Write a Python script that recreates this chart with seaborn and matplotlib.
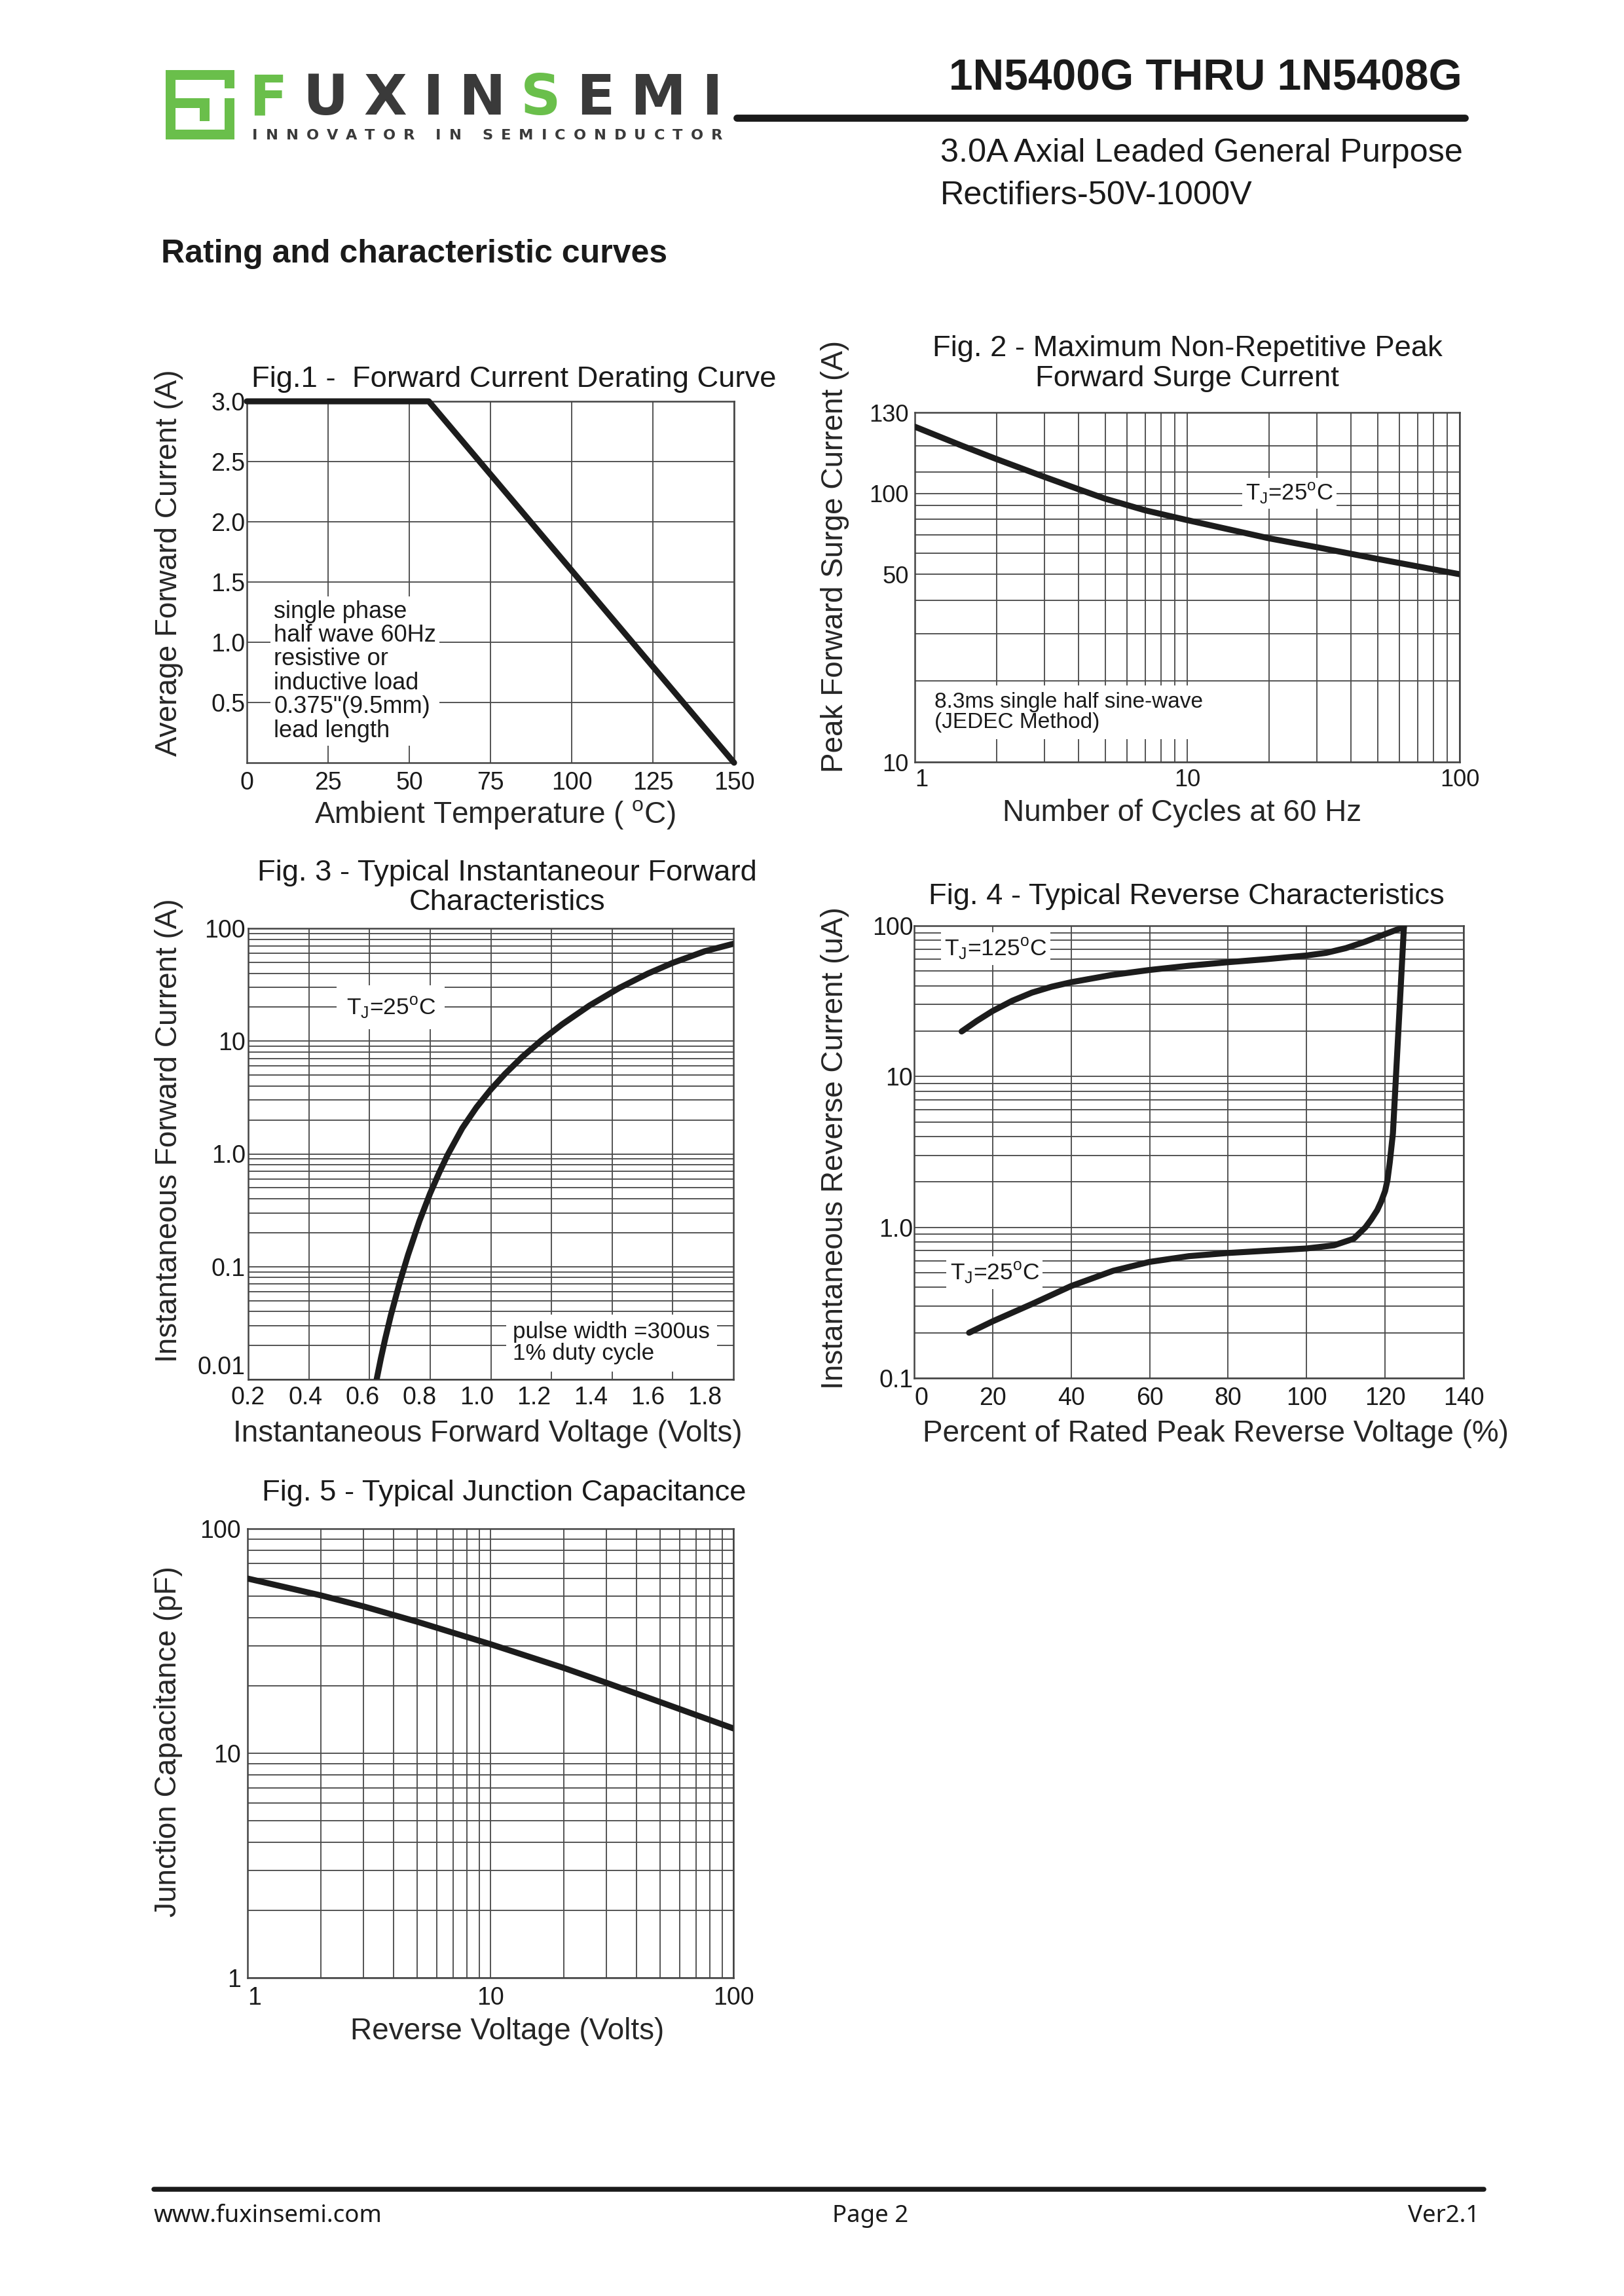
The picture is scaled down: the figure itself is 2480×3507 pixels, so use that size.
import numpy as np
import pandas as pd
import matplotlib
matplotlib.use("Agg")
import matplotlib.pyplot as plt
import seaborn as sns
from matplotlib.patches import Rectangle
from matplotlib.lines import Line2D
from matplotlib.ticker import FixedLocator, NullFormatter, LogLocator

# ---------------- data ----------------
fig1_temp = [0, 56, 150]
fig1_current = [3.0, 3.0, 0.0]
fig1_xticks = [0, 25, 50, 75, 100, 125, 150]
fig1_yticks = [0.5, 1.0, 1.5, 2.0, 2.5, 3.0]
fig1_yticklabels = ["0.5", "1.0", "1.5", "2.0", "2.5", "3.0"]

fig2_cycles = [1, 1.5, 2, 3, 4, 5, 7, 10, 20, 30, 50, 100]
fig2_surge = [177, 150, 134, 115, 103.5, 95.5, 86.5, 79.5, 68, 63, 57, 50]
fig2_xticks = [1, 10, 100]
fig2_yticks = [10, 50, 100, 200]
fig2_yticklabels = ["10", "50", "100", "130"]
fig2_yminor = [20, 30, 40, 60, 70, 80, 90, 120, 150]

fig3_vf = [0.650, 0.665, 0.680, 0.700, 0.731, 0.760, 0.800, 0.837, 0.870, 0.899, 0.950, 1.000,
           1.049, 1.100, 1.160, 1.228, 1.300, 1.396, 1.500, 1.600, 1.688, 1.800, 1.900]
fig3_if = [0.0100, 0.0154, 0.0229, 0.0372, 0.0726, 0.127, 0.254, 0.444, 0.689, 0.982, 1.69, 2.59,
           3.70, 5.13, 7.24, 10.2, 14.1, 20.7, 29.6, 39.7, 49.5, 62.7, 73.0]
fig3_xticks = [0.2, 0.4, 0.6, 0.8, 1.0, 1.2, 1.4, 1.6, 1.8]
fig3_xticklabels = ["0.2", "0.4", "0.6", "0.8", "1.0", "1.2", "1.4", "1.6", "1.8"]
fig3_yticks = [0.01, 0.1, 1, 10, 100]
fig3_yticklabels = ["0.01", "0.1", "1.0", "10", "100"]

fig4_pct_25 = [14, 20, 30, 40, 50.7, 60, 70, 80, 90, 100, 107, 112, 115, 116.5, 118, 119, 120,
               120.6, 121.2, 122, 124.8]
fig4_ir_25 = [0.20, 0.238, 0.31, 0.408, 0.515, 0.59, 0.644, 0.676, 0.70, 0.724, 0.76, 0.84, 1.0,
              1.13, 1.30, 1.48, 1.74, 2.05, 2.70, 4.2, 98]
fig4_pct_125 = [12.1, 16, 20, 25, 30, 35, 40, 50, 60, 70, 80, 90, 100, 105, 110, 115, 120, 124.8]
fig4_ir_125 = [19.9, 23.4, 27.2, 31.8, 36.0, 39.4, 42.2, 47.0, 50.9, 54.3, 57.3, 60.1, 63.5, 66.1,
               71.0, 78.5, 88.0, 98]
fig4_xticks = [0, 20, 40, 60, 80, 100, 120, 140]
fig4_yticks = [0.1, 1, 10, 100]
fig4_yticklabels = ["0.1", "1.0", "10", "100"]

fig5_vr = [1, 2, 3, 5, 10, 20, 30, 50, 100]
fig5_cj = [60, 50.5, 45.1, 38.5, 30.6, 24.0, 20.6, 16.9, 12.9]
fig5_xticks = [1, 10, 100]
fig5_yticks = [1, 10, 100]

# ---------------- style ----------------
sns.set_theme(style="white")
plt.rcParams["font.family"] = ["Liberation Sans", "DejaVu Sans"]
plt.rcParams["mathtext.fontset"] = "custom"
plt.rcParams["mathtext.rm"] = "Liberation Sans"
plt.rcParams["text.color"] = "#1a1a1a"

W, H = 2480, 3507
fig = plt.figure(figsize=(W / 300, H / 300), dpi=300)
fig.patch.set_facecolor("white")

def fx(px):
    return px / W

def fy(py):
    return 1 - py / H

def add_axes_px(l, t, r, b):
    return fig.add_axes([fx(l), fy(b), (r - l) / W, (b - t) / H])

CURVE = "#1c1c1c"
GRID = "#4d4d4d"
LW = 2.2
TICK_FS = 9.0
LABEL_FS = 11.0
TITLE_FS = 10.9
BOX = dict(boxstyle="square,pad=0.15", fc="white", ec="none")

def style(ax, ypad=2, xpad=3, fs=TICK_FS):
    for s in ax.spines.values():
        s.set_color("#444444")
        s.set_linewidth(0.6)
    ax.tick_params(which="both", length=0, labelsize=fs, colors="#1a1a1a")
    ax.tick_params(axis="y", pad=ypad)
    ax.tick_params(axis="x", pad=xpad)
    ax.set_axisbelow(True)
    ax.set_facecolor("white")

def gridon(ax, axis="both", which="both"):
    ax.grid(True, axis=axis, which=which, color=GRID, linewidth=0.45)

def first_xlabel_left(ax):
    ticks = ax.xaxis.get_major_ticks()
    locs = [t.get_loc() for t in ticks]
    ticks[int(np.argmin(locs))].label1.set_horizontalalignment("left")

def TJ(t):
    return r"T$_{\mathregular{J}}$=" + t + r"$^{\mathregular{o}}$C"

# ---------------- Fig 1 ----------------
ax1 = add_axes_px(377, 613, 1121, 1165)
df1 = pd.DataFrame({"T": fig1_temp, "I": fig1_current})
sns.lineplot(data=df1, x="T", y="I", ax=ax1, color=CURVE, linewidth=LW, sort=False,
             estimator=None, clip_on=False, zorder=5)
ax1.set_xlim(0, 150)
ax1.set_ylim(0, 3.0)
ax1.set_xticks(fig1_xticks, [str(v) for v in fig1_xticks])
ax1.set_yticks(fig1_yticks, fig1_yticklabels)
style(ax1, ypad=0.6, xpad=3.2)
gridon(ax1, which="major")
ax1.set_xlabel("Ambient Temperature ( $^{\\mathregular{o}}$C)", fontsize=LABEL_FS)
ax1.set_ylabel("Average Forward Current (A)", fontsize=LABEL_FS)
ax1.xaxis.set_label_coords(0.509, -0.099)
ax1.yaxis.set_label_coords(-0.131, 0.554)
ax1.text(0.548, 1.060, "Fig.1 -  Forward Current Derating Curve", transform=ax1.transAxes,
         ha="center", va="center", fontsize=TITLE_FS)
ax1.text(8.3, 0.76, "single phase\nhalf wave 60Hz\nresistive or\ninductive load\n0.375\"(9.5mm)\nlead length",
         ha="left", va="center", fontsize=8.7, linespacing=1.05, bbox=BOX, zorder=4)

# ---------------- Fig 2 ----------------
ax2 = add_axes_px(1397, 630, 2229, 1164)
df2 = pd.DataFrame({"n": fig2_cycles, "I": fig2_surge})
sns.lineplot(data=df2, x="n", y="I", ax=ax2, color=CURVE, linewidth=LW, sort=False,
             estimator=None, zorder=5)
ax2.set_xscale("log")
ax2.set_yscale("log")
ax2.set_xlim(1, 100)
ax2.set_ylim(10, 200)
ax2.set_xticks(fig2_xticks, [str(v) for v in fig2_xticks])
ax2.xaxis.set_minor_locator(LogLocator(base=10, subs=np.arange(2, 10)))
ax2.xaxis.set_minor_formatter(NullFormatter())
ax2.set_yticks(fig2_yticks, fig2_yticklabels)
ax2.yaxis.set_minor_locator(FixedLocator(fig2_yminor))
ax2.yaxis.set_minor_formatter(NullFormatter())
style(ax2, ypad=2.2, xpad=2.5, fs=8.7)
gridon(ax2)
first_xlabel_left(ax2)
ax2.set_xlabel("Number of Cycles at 60 Hz", fontsize=LABEL_FS)
ax2.set_ylabel("Peak Forward Surge Current (A)", fontsize=LABEL_FS)
ax2.xaxis.set_label_coords(0.49, -0.105)
ax2.yaxis.set_label_coords(-0.120, 0.588)
ax2.text(0.5, 1.140, "Fig. 2 - Maximum Non-Repetitive Peak\nForward Surge Current", transform=ax2.transAxes,
         ha="center", va="center", fontsize=TITLE_FS, linespacing=1.15)
ax2.text(23.7, 100, TJ("25"), ha="center", va="center", fontsize=8.3, bbox=BOX, zorder=4)
ax2.text(1.18, 15.3, "8.3ms single half sine-wave\n(JEDEC Method)", ha="left", va="center",
         fontsize=8.0, linespacing=1.0, bbox=dict(boxstyle="square,pad=0.3", fc="white", ec="none"), zorder=4)

# ---------------- Fig 3 ----------------
ax3 = add_axes_px(379, 1418, 1120, 2107)
df3 = pd.DataFrame({"V": fig3_vf, "I": fig3_if})
sns.lineplot(data=df3, x="V", y="I", ax=ax3, color=CURVE, linewidth=LW, sort=False,
             estimator=None, zorder=5)
ax3.set_yscale("log")
ax3.set_xlim(0.2, 1.9)
ax3.set_ylim(0.01, 100)
ax3.set_xticks(fig3_xticks, fig3_xticklabels)
ax3.xaxis.set_minor_locator(FixedLocator(np.linspace(0.2, 1.9, 9)[1:-1]))
ax3.set_yticks(fig3_yticks, fig3_yticklabels)
ax3.yaxis.set_minor_locator(LogLocator(base=10, subs=np.arange(2, 10)))
ax3.yaxis.set_minor_formatter(NullFormatter())
style(ax3, ypad=1.0, xpad=2.5)
ax3.grid(True, axis="y", which="both", color=GRID, linewidth=0.45)
ax3.grid(True, axis="x", which="minor", color=GRID, linewidth=0.45)
ax3.grid(False, axis="x", which="major")
for t in ax3.yaxis.get_major_ticks():
    if abs(t.get_loc() - 0.01) < 1e-9:
        t.label1.set_verticalalignment("bottom")
ax3.set_xlabel("Instantaneous Forward Voltage (Volts)", fontsize=LABEL_FS)
ax3.set_ylabel("Instantaneous Forward Current (A)", fontsize=LABEL_FS)
ax3.xaxis.set_label_coords(0.494, -0.088)
ax3.yaxis.set_label_coords(-0.134, 0.552)
ax3.text(0.534, 1.090, "Fig. 3 - Typical Instantaneour Forward\nCharacteristics", transform=ax3.transAxes,
         ha="center", va="center", fontsize=TITLE_FS, linespacing=1.15)
ax3.text(0.70, 20, TJ("25"), ha="center", va="center", fontsize=8.5,
         bbox=dict(boxstyle="square,pad=0.4", fc="white", ec="none"), zorder=4)
ax3.text(1.128, 0.021, "pulse width =300us\n1% duty cycle", ha="left", va="center", fontsize=8.4,
         linespacing=1.0, bbox=dict(boxstyle="square,pad=0.3", fc="white", ec="none"), zorder=4)

# ---------------- Fig 4 ----------------
ax4 = add_axes_px(1396, 1414, 2235, 2105)
df4a = pd.DataFrame({"p": fig4_pct_25, "I": fig4_ir_25})
df4b = pd.DataFrame({"p": fig4_pct_125, "I": fig4_ir_125})
sns.lineplot(data=df4a, x="p", y="I", ax=ax4, color=CURVE, linewidth=LW, sort=False,
             estimator=None, zorder=5)
sns.lineplot(data=df4b, x="p", y="I", ax=ax4, color=CURVE, linewidth=LW, sort=False,
             estimator=None, zorder=5)
ax4.set_yscale("log")
ax4.set_xlim(0, 140)
ax4.set_ylim(0.1, 100)
ax4.set_xticks(fig4_xticks, [str(v) for v in fig4_xticks])
ax4.set_yticks(fig4_yticks, fig4_yticklabels)
ax4.yaxis.set_minor_locator(LogLocator(base=10, subs=np.arange(2, 10)))
ax4.yaxis.set_minor_formatter(NullFormatter())
style(ax4, ypad=0.4, xpad=3.0)
gridon(ax4)
first_xlabel_left(ax4)
ax4.set_xlabel("Percent of Rated Peak Reverse Voltage (%)", fontsize=LABEL_FS)
ax4.set_ylabel("Instantaneous Reverse Current (uA)", fontsize=LABEL_FS)
ax4.xaxis.set_label_coords(0.549, -0.091)
ax4.yaxis.set_label_coords(-0.118, 0.508)
ax4.text(0.496, 1.065, "Fig. 4 - Typical Reverse Characteristics", transform=ax4.transAxes,
         ha="center", va="center", fontsize=TITLE_FS)
ax4.text(20.8, 70.5, TJ("125"), ha="center", va="center", fontsize=8.5, bbox=BOX, zorder=4)
ax4.text(20.5, 0.5, TJ("25"), ha="center", va="center", fontsize=8.5, bbox=BOX, zorder=4)

# ---------------- Fig 5 ----------------
ax5 = add_axes_px(378, 2335, 1120, 3021)
df5 = pd.DataFrame({"V": fig5_vr, "C": fig5_cj})
sns.lineplot(data=df5, x="V", y="C", ax=ax5, color=CURVE, linewidth=LW, sort=False,
             estimator=None, zorder=5)
ax5.set_xscale("log")
ax5.set_yscale("log")
ax5.set_xlim(1, 100)
ax5.set_ylim(1, 100)
ax5.set_xticks(fig5_xticks, [str(v) for v in fig5_xticks])
ax5.set_yticks(fig5_yticks, [str(v) for v in fig5_yticks])
for a in (ax5.xaxis, ax5.yaxis):
    a.set_minor_locator(LogLocator(base=10, subs=np.arange(2, 10)))
    a.set_minor_formatter(NullFormatter())
style(ax5, ypad=2.5, xpad=3.0)
gridon(ax5)
first_xlabel_left(ax5)
ax5.set_xlabel("Reverse Voltage (Volts)", fontsize=LABEL_FS)
ax5.set_ylabel("Junction Capacitance (pF)", fontsize=LABEL_FS)
ax5.xaxis.set_label_coords(0.535, -0.088)
ax5.yaxis.set_label_coords(-0.133, 0.526)
ax5.text(0.528, 1.080, "Fig. 5 - Typical Junction Capacitance", transform=ax5.transAxes,
         ha="center", va="center", fontsize=TITLE_FS)

# ---------------- header ----------------
GREEN = "#6abf4b"
DARK = "#3a3a3a"

def rect_px(x0, y0, x1, y1, color):
    fig.patches.append(Rectangle((fx(x0), fy(y1)), (x1 - x0) / W, (y1 - y0) / H,
                                 transform=fig.transFigure, facecolor=color, edgecolor="none"))

# logo icon
rect_px(253, 107, 358, 122, GREEN)
rect_px(253, 107, 268, 213, GREEN)
rect_px(253, 198, 358, 213, GREEN)
rect_px(343, 150, 358, 213, GREEN)
rect_px(268, 150, 320, 165, GREEN)
rect_px(305, 150, 320, 185, GREEN)
rect_px(343, 107, 358, 135, GREEN)

renderer = fig.canvas.get_renderer()

def spaced_text(s, colors, x0, x1, ybase, size, weight, family):
    objs = []
    for ch, c in zip(s, colors):
        t = fig.text(0, fy(ybase), ch, fontsize=size, fontweight=weight, family=family,
                     color=c, ha="left", va="baseline")
        objs.append(t)
    widths = [t.get_window_extent(renderer).width for t in objs]
    total = sum(widths)
    gap = (x1 - x0 - total) / max(len(s) - 1, 1)
    x = x0
    for t, w in zip(objs, widths):
        t.set_x(fx(x))
        x += w + gap

logo = "FUXINSEMI"
logo_cols = [GREEN, DARK, DARK, DARK, DARK, GREEN, DARK, DARK, DARK]
spaced_text(logo, logo_cols, 380, 1103, 175, 20.5, "bold", ["DejaVu Sans"])
tag = ["INNOVATOR", "IN", "SEMICONDUCTOR"]
tag_str = " ".join(tag)
spaced_text(tag_str, [DARK] * len(tag_str), 385, 1103, 213, 5.4, "bold", ["DejaVu Sans"])

fig.text(fx(2233), fy(121), "1N5400G THRU 1N5408G", ha="right", va="center",
         fontsize=15.8, fontweight="bold", color="#1a1a1a")
fig.lines.append(Line2D([fx(1125), fx(2237)], [fy(180), fy(180)], transform=fig.transFigure,
                        color="#1a1a1a", linewidth=2.6))
fig.text(fx(1436), fy(234), "3.0A Axial Leaded General Purpose", ha="left", va="center",
         fontsize=12.1, color="#1a1a1a")
fig.text(fx(1436), fy(299), "Rectifiers-50V-1000V", ha="left", va="center",
         fontsize=12.1, color="#1a1a1a")
fig.text(fx(246), fy(388), "Rating and characteristic curves", ha="left", va="center",
         fontsize=12.0, fontweight="bold", color="#1a1a1a")

# ---------------- footer ----------------
fig.lines.append(Line2D([fx(235), fx(2266)], [fy(3344), fy(3344)], transform=fig.transFigure,
                        color="#1a1a1a", linewidth=1.8))
FOOT = ["Noto Sans", "DejaVu Sans"]
fig.text(fx(235), fy(3385), "www.fuxinsemi.com", ha="left", va="center", fontsize=8.8,
         family=FOOT, color="#1a1a1a")
fig.text(fx(1329), fy(3385), "Page 2", ha="center", va="center", fontsize=8.8,
         family=FOOT, color="#1a1a1a")
fig.text(fx(2259), fy(3385), "Ver2.1", ha="right", va="center", fontsize=8.8,
         family=FOOT, color="#1a1a1a")

fig.savefig("out.png", dpi=300, facecolor="white")
